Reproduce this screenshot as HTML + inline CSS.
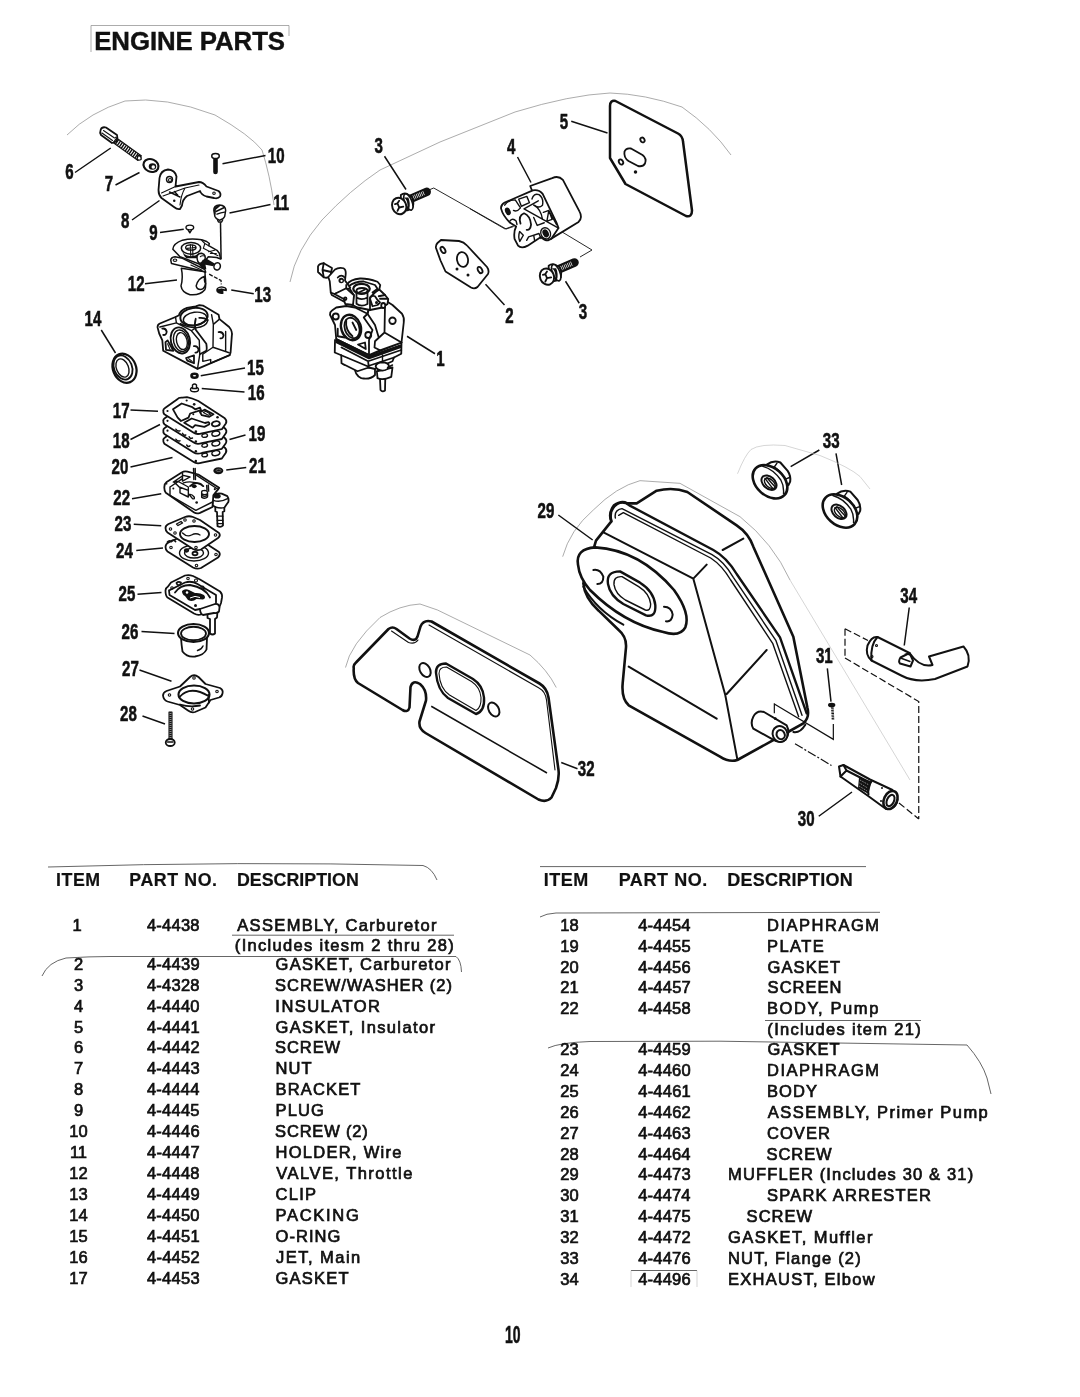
<!DOCTYPE html>
<html><head><meta charset="utf-8"><title>Engine Parts</title>
<style>
html,body{margin:0;padding:0;background:#fff;}
body{width:1080px;height:1397px;position:relative;overflow:hidden;font-family:"Liberation Sans",sans-serif;color:#111;}
svg{position:absolute;left:0;top:0;filter:grayscale(1);}
svg *{vector-effect:non-scaling-stroke;}
.k{fill:none;stroke:#111;stroke-width:1.4;stroke-linecap:round;stroke-linejoin:round;}
.k2{fill:none;stroke:#111;stroke-width:2.0;stroke-linecap:round;stroke-linejoin:round;}
.k1{fill:none;stroke:#111;stroke-width:1.1;stroke-linecap:round;stroke-linejoin:round;}
.w{fill:#fff;stroke:#111;stroke-width:1.4;stroke-linecap:round;stroke-linejoin:round;}
.w2{fill:#fff;stroke:#111;stroke-width:2.0;stroke-linecap:round;stroke-linejoin:round;}
.w1{fill:#fff;stroke:#111;stroke-width:1.1;stroke-linecap:round;stroke-linejoin:round;}
.k2s{fill:none;stroke:#111;stroke-width:1.8;stroke-linecap:round;stroke-linejoin:round;}
.w2s{fill:#fff;stroke:#111;stroke-width:1.8;stroke-linecap:round;stroke-linejoin:round;}
.h{fill:#fff;stroke:#111;stroke-width:2.5;stroke-linecap:round;stroke-linejoin:round;}
.b{fill:#111;stroke:none;}
.ld{fill:none;stroke:#111;stroke-width:1.5;stroke-linecap:butt;}
.g{fill:none;stroke:#888;stroke-width:0.7;}
.g2{fill:none;stroke:#bbb;stroke-width:0.6;}
.g3{fill:none;stroke:#555;stroke-width:0.9;}
.ds{fill:none;stroke:#111;stroke-width:1.2;stroke-dasharray:7 3;}
.n{font-family:"Liberation Sans",sans-serif;font-weight:bold;fill:#111;text-anchor:middle;stroke:#111;stroke-width:0.5;}
text{white-space:pre;}
.tx{font-size:16.5px;fill:#111;stroke:#111;stroke-width:0.7;}
.hdL{font-size:17.8px;font-weight:bold;fill:#111;stroke:#111;stroke-width:0.2;}
.hdR{font-size:18px;font-weight:bold;fill:#111;stroke:#111;stroke-width:0.2;}
.ttl{font-size:25.8px;font-weight:bold;fill:#111;stroke:#111;stroke-width:0.4;}
</style></head><body>
<svg width="1080" height="1397" viewBox="0 0 1080 1397">
<g transform="translate(0.0,0.0) scale(1.000000)">
<path class="g" d="M67,135 Q90,112 125,101 Q165,96 215,115 Q250,135 262,150 Q270,175 274,205"/>
<path class="g" d="M290,282 Q296,250 322,220 Q350,190 380,170 L440,142 L515,112 Q570,95 610,93 Q645,94 682,107 Q712,128 731,155"/>
<path class="g" d="M91,52 L91,25.5 L289,25.5 L289,36"/>
<!-- table artefact lines -->
<path class="g3" d="M48,867 Q240,861 423,865.5 Q432,868 437,880"/>
<path class="g3" d="M232,935.2 L454,935.2"/>
<path class="g3" d="M42,976 Q48,962 66,958 Q90,956.5 110,956.5 L456,956.5 Q461,960 461.5,972"/>
<path class="g3" d="M540,866.6 L866,866.6"/>
<path class="g3" d="M540,917 Q546,913.5 556,913 L880,912.3"/>
<path class="g3" d="M765,1020.5 L921,1020.5"/>
<path class="g3" d="M548,1048 Q560,1042.5 590,1041.5 L720,1041.2 L967,1045 Q982,1062 987,1078 L991,1094"/>
<path class="g3" d="M631,1270.5 L697,1270.5"/><path class="g2" d="M631,1287 L631,1270.5 M697,1270.5 L697,1287"/>
</g>
<g transform="translate(50.0,100.0) scale(0.250000)">
<!-- part 6 screw -->
<path class="w2s" d="M203,118 Q208,106 224,110 L268,140 Q272,150 266,166 L248,172 L204,140 Q198,130 203,118 Z"/>
<path class="k1" d="M214,122 L258,152 M208,132 L250,162"/>
<path d="M258,160 L360,232" stroke="#111" stroke-width="5.6" fill="none" stroke-dasharray="1.4 1"/>
<path class="k1" d="M262,149 L366,224 M252,170 L352,242"/>
<path class="w" d="M352,222 Q368,224 364,238 Q354,244 348,236 Z"/>
<!-- part 7 nut -->
<ellipse class="w2s" cx="404" cy="262" rx="31" ry="25" transform="rotate(25 404 262)" style="stroke-width:2.10"/>
<ellipse class="b" cx="410" cy="266" rx="15" ry="13"/>
<ellipse cx="413" cy="268" rx="7" ry="7" fill="#fff"/>
<!-- part 10 screw -->
<path d="M662,232 L662,288" stroke="#111" stroke-width="4.6" fill="none" stroke-linecap="round"/>
<ellipse class="w" cx="662" cy="224" rx="15" ry="10" style="stroke-width:1.50"/>
<!-- part 8 bracket -->
<path class="w2s" d="M438,312 Q442,282 472,278 Q500,280 506,306 L502,346 L596,328 Q612,328 626,346 L674,364 Q686,374 680,386 Q672,396 656,392 L626,386 Q606,380 600,364 L548,384 Q530,398 528,422 L520,436 Q508,438 496,428 L446,392 Q434,380 434,360 Z"/>
<path class="k1" d="M446,372 L502,346 M452,384 L540,352 L596,340 M540,352 Q524,380 520,420"/>
<circle class="w" cx="478" cy="318" r="12"/><circle class="k1" cx="480" cy="320" r="6"/>
<circle class="b" cx="497" cy="403" r="5"/><circle class="k1" cx="656" cy="373" r="5"/>
<path class="k" d="M478,368 L520,388 M498,366 L512,382"/>
<!-- leaders -->
<path class="ld" d="M100,290 L243,192 M262,340 L358,290 M328,480 L438,402 M440,530 L535,517 M690,255 L862,222 M718,452 L882,418 M380,735 L508,720 M725,760 L815,775"/>
<text class="n" transform="translate(78.0,315.0) scale(0.68,1)" font-size="88.8">6</text> <text class="n" transform="translate(236.0,363.0) scale(0.68,1)" font-size="88.8">7</text> <text class="n" transform="translate(301.0,511.0) scale(0.68,1)" font-size="88.8">8</text> <text class="n" transform="translate(414.0,561.0) scale(0.68,1)" font-size="88.8">9</text> <text class="n" transform="translate(905.0,250.0) scale(0.68,1)" font-size="88.8">10</text> <text class="n" transform="translate(925.0,438.0) scale(0.68,1)" font-size="88.8">11</text> <text class="n" transform="translate(345.0,765.0) scale(0.68,1)" font-size="88.8">12</text> <text class="n" transform="translate(851.0,806.0) scale(0.68,1)" font-size="88.8">13</text> <text class="n" transform="translate(172.0,902.0) scale(0.68,1)" font-size="88.8">14</text>
</g>
<g transform="translate(155.0,190.0) scale(0.083333)">
<!-- part 9 -->
<ellipse class="w" cx="418" cy="450" rx="46" ry="28"/>
<path class="k" d="M396,478 L418,514 L440,478"/>
<!-- part 11 -->
<path class="w" d="M706,244 Q702,186 775,180 Q848,186 848,246 L836,318 Q818,356 775,362 Q737,356 719,318 Z" style="stroke-width:1.50"/>
<path class="b" d="M708,244 Q708,204 750,190 L790,186 L730,236 L728,290 L716,300 Z"/>
<path class="k" d="M732,258 L832,210 M744,290 Q790,272 836,266"/>
<path class="k" d="M752,364 L762,384 L800,384 L812,360"/>
<path class="ld" d="M786,386 L793,832"/>
<!-- part 12 -->
<path class="w" d="M316,940 Q340,1050 312,1150 Q322,1228 420,1256 Q540,1268 598,1198 Q618,1150 602,1030 L600,980 Z" style="stroke-width:1.50"/>
<path class="w" d="M598,1034 Q512,1062 494,1150 Q502,1198 560,1192 Q598,1178 606,1120 Q584,1090 598,1034 Z" style="stroke-width:1.50"/>
<path class="w" d="M214,712 Q218,642 330,602 Q440,574 560,598 L620,618 L652,642 L644,668 L744,724 L772,760 L788,828 L740,810 L640,800 L560,900 L300,800 Z" style="stroke-width:1.50"/>
<path class="k1" d="M560,604 L598,642 L580,700 L756,788 M598,642 L644,668 M640,740 L716,722 M664,762 L736,762"/>
<ellipse class="w" cx="432" cy="700" rx="116" ry="70" style="stroke-width:1.50"/>
<path class="b" d="M326,730 Q340,786 432,794 Q530,786 540,730 Q530,770 500,820 L376,820 Q334,780 326,730 Z"/>
<ellipse class="w" cx="430" cy="690" rx="62" ry="32"/>
<path class="k1" d="M424,654 L430,806 M450,660 L456,806 M384,700 L486,690"/>
<path class="w" d="M189,842 Q192,806 240,800 L330,820 L598,954 L608,988 L580,976 L198,882 Z" style="stroke-width:1.50"/>
<ellipse class="k1" cx="240" cy="842" rx="22" ry="14"/>
<path class="k1" d="M430,900 L560,960"/>
<path class="w" d="M504,800 Q510,764 560,760 Q608,774 602,820 Q594,876 540,880 Q504,866 504,800 Z" style="stroke-width:1.50"/>
<path class="k1" d="M544,800 Q560,782 598,792"/>
<path class="b" d="M574,836 L620,826 L716,882 L700,914 L606,898 L616,950 L566,944 L530,900 Z"/>
<ellipse class="w" cx="746" cy="916" rx="38" ry="44" transform="rotate(20 746 916)" style="stroke-width:1.50"/>
<path class="ld" d="M650,1010 L792,1086 L796,1132" style="stroke-dasharray:4 1.5;stroke-width:1.3"/>
<!-- part 13 -->
<path class="b" d="M734,1200 Q738,1162 800,1156 Q858,1162 864,1196 L860,1214 L820,1208 L822,1244 Q790,1254 760,1238 Q734,1226 734,1200 Z"/>
<path d="M760,1184 Q800,1170 840,1186" stroke="#fff" stroke-width="0.8" fill="none"/>
</g>
<g transform="translate(50.0,300.0) scale(0.250000)">
<!-- part 14 packing -->
<path class="ld" d="M205,120 L262,212"/>
<ellipse class="w2s" cx="298" cy="273" rx="46" ry="60" transform="rotate(-22 298 273)" style="stroke-width:2.25"/>
<ellipse class="k2s" cx="292" cy="270" rx="36" ry="50" transform="rotate(-22 292 270)"/>
<ellipse class="k" cx="290" cy="272" rx="24" ry="38" transform="rotate(-22 290 272)"/>
<!-- 15, 16 -->
<ellipse cx="578" cy="303" rx="12" ry="8" fill="#fff" stroke="#111" stroke-width="2.6"/>
<ellipse class="w" cx="578" cy="358" rx="16" ry="9"/><path class="w" d="M570,340 Q578,332 586,340 L586,354 L570,354 Z"/>
<!-- leaders -->
<path class="ld" d="M603,303 L780,272 M607,354 L778,368 M322,440 L432,445 M322,558 L440,498 M718,558 L782,540 M322,668 L490,630 M705,680 L785,670 M328,795 L445,775 M335,897 L445,903"/>
<text class="n" transform="translate(822.0,298.0) scale(0.68,1)" font-size="88.8">15</text> <text class="n" transform="translate(825.0,400.0) scale(0.68,1)" font-size="88.8">16</text> <text class="n" transform="translate(285.0,470.0) scale(0.68,1)" font-size="88.8">17</text> <text class="n" transform="translate(285.0,590.0) scale(0.68,1)" font-size="88.8">18</text> <text class="n" transform="translate(828.0,563.0) scale(0.68,1)" font-size="88.8">19</text> <text class="n" transform="translate(280.0,695.0) scale(0.68,1)" font-size="88.8">20</text> <text class="n" transform="translate(830.0,693.0) scale(0.68,1)" font-size="88.8">21</text> <text class="n" transform="translate(287.0,820.0) scale(0.68,1)" font-size="88.8">22</text> <text class="n" transform="translate(292.0,922.0) scale(0.68,1)" font-size="88.8">23</text>
</g>
<g transform="translate(150.0,298.0) scale(0.087966)">
<path class="w2s" d="M86,334 Q84,302 112,290 L290,216 L330,196 Q342,140 420,112 L520,96 L562,80 L602,86 L780,190 L790,240 L900,330 Q940,380 930,430 L916,620 L906,650 L540,806 L150,600 L140,480 Q96,400 86,334 Z"/>
<ellipse class="w2s" cx="500" cy="212" rx="156" ry="100" transform="rotate(-8 500 212)" style="stroke-width:1.95"/>
<ellipse class="k" cx="512" cy="236" rx="134" ry="74" transform="rotate(-8 512 236)"/>
<path class="k" d="M290,216 L300,282 L470,372 L560,480 L566,640 L540,806 M470,372 L520,340 M300,282 L112,330 M345,290 Q420,330 520,340 Q640,330 660,250"/>
<path class="k2s" d="M520,236 Q500,300 520,360 L640,520 Q650,580 640,600 L566,640 M560,226 Q620,220 650,250"/>
<path class="k" d="M700,190 L720,300 L716,560 L900,622 M720,300 L790,240 M716,560 L600,640 L600,720 L690,700 L690,740 L906,650 M860,380 L860,600"/>
<ellipse class="w2s" cx="345" cy="482" rx="108" ry="150" transform="rotate(-14 345 482)" style="stroke-width:1.95"/>
<ellipse class="k" cx="352" cy="486" rx="84" ry="124" transform="rotate(-14 352 486)"/>
<ellipse class="k" cx="362" cy="490" rx="60" ry="98" transform="rotate(-14 362 490)"/>
<path class="k2s" d="M140,348 Q180,340 190,384 Q186,424 150,420 M500,548 Q540,540 552,584 Q548,624 516,620 M780,388 Q826,380 836,424 Q830,464 800,458"/>
<path class="k2s" d="M176,502 L200,482 L266,600 L182,590 Z M410,682 L500,652 L500,742 L424,712 Z"/>
<path class="k1" d="M200,520 L230,590 M440,690 L480,720"/>
</g>
<g transform="translate(155.0,390.0) scale(0.083333)">
<g transform="translate(0,352)"><path class="w2s" d="M100,248 Q98,232 116,220 L268,112 Q286,86 330,92 L384,86 Q440,96 520,132 L838,340 Q868,370 850,402 L802,470 L562,520 Q500,540 460,510 L112,292 Q96,272 100,248 Z"/><ellipse class="k" cx="730" cy="405" rx="48" ry="30" transform="rotate(-10 730 405)"/><ellipse class="k" cx="596" cy="428" rx="34" ry="22" transform="rotate(-10 596 428)"/><circle class="b" cx="150" cy="252" r="13"/><circle class="b" cx="490" cy="500" r="15"/></g>
<g transform="translate(0,236)"><path class="w2s" d="M100,248 Q98,232 116,220 L268,112 Q286,86 330,92 L384,86 Q440,96 520,132 L838,340 Q868,370 850,402 L802,470 L562,520 Q500,540 460,510 L112,292 Q96,272 100,248 Z"/><ellipse class="k" cx="730" cy="405" rx="48" ry="30" transform="rotate(-10 730 405)"/><ellipse class="k" cx="596" cy="428" rx="34" ry="22" transform="rotate(-10 596 428)"/><circle class="b" cx="150" cy="252" r="13"/><circle class="b" cx="490" cy="500" r="15"/></g>
<g transform="translate(0,118)"><path class="w2s" d="M100,248 Q98,232 116,220 L268,112 Q286,86 330,92 L384,86 Q440,96 520,132 L838,340 Q868,370 850,402 L802,470 L562,520 Q500,540 460,510 L112,292 Q96,272 100,248 Z"/><ellipse class="k" cx="730" cy="405" rx="48" ry="30" transform="rotate(-10 730 405)"/><ellipse class="k" cx="596" cy="428" rx="34" ry="22" transform="rotate(-10 596 428)"/><circle class="b" cx="150" cy="252" r="13"/><circle class="b" cx="490" cy="500" r="15"/></g>
<path class="k" d="M330,520 Q340,550 370,540 M410,560 Q420,590 450,576 M250,470 Q270,500 300,490 M250,590 Q270,620 300,610 M380,660 Q400,690 420,670"/>
<path class="w2s" d="M100,248 Q98,232 116,220 L268,112 Q286,86 330,92 L384,86 Q440,96 520,132 L838,340 Q868,370 850,402 L802,470 L562,520 Q500,540 460,510 L112,292 Q96,272 100,248 Z"/>
<path class="k2s" d="M216,232 L320,162 L440,202 L482,232 L540,212 L552,242 L422,282 L402,332 L312,372 L272,332 Z M540,266 L600,236 L702,292 L652,322 L562,302 Z M350,392 L440,342 L600,396 L642,386 Q660,400 648,414 L592,442 L482,422 L452,452 Z"/>
<path class="k1" d="M580,270 L610,256 L668,290 L640,304 Z"/>
<ellipse class="k2s" cx="730" cy="405" rx="48" ry="30" transform="rotate(-10 730 405)"/>
<circle class="b" cx="150" cy="252" r="13"/><circle class="b" cx="380" cy="126" r="13"/><circle class="b" cx="470" cy="172" r="16"/><circle class="b" cx="460" cy="290" r="12"/><circle class="b" cx="750" cy="326" r="15"/><circle class="b" cx="490" cy="500" r="16"/>
</g>
<g transform="translate(155.0,462.0) scale(0.083333)">
<!-- 21 -->
<ellipse class="b" cx="760" cy="106" rx="60" ry="42"/><ellipse cx="764" cy="100" rx="30" ry="14" fill="none" stroke="#999" stroke-width="0.6"/>
<!-- 22 fitting -->
<path class="w2s" d="M690,400 Q740,370 800,380 L868,410 Q890,440 880,480 L852,520 L832,548 L832,590 L812,600 L816,760 Q790,790 750,770 L744,600 L724,590 L724,540 L690,520 Z"/>
<path class="k" d="M744,650 L814,650 M746,700 L815,700 M748,740 L816,740 M724,540 Q780,560 832,548 M700,460 Q780,490 870,440"/>
<ellipse class="b" cx="746" cy="410" rx="42" ry="28"/>
<!-- 22 body -->
<path class="w2s" d="M112,300 Q112,262 140,240 L320,126 Q350,106 390,116 L520,150 L770,310 L700,400 L690,540 L540,610 Q500,626 470,606 L130,370 Q110,350 112,300 Z"/>
<path class="k" d="M180,300 L180,400 L490,580 L690,480 M180,300 L330,200 M220,240 L340,160 L420,180 M500,160 L760,330 M330,130 L330,230 L420,180 M230,240 Q260,220 290,240 L400,300 L400,340 L290,300 Z M300,310 L300,370 L400,420 L400,340 M410,390 Q440,380 470,420 Q480,450 450,440 Z M340,250 Q440,220 560,270"/>
<path class="k2s" d="M420,290 Q470,240 540,260 L580,290"/>
<ellipse class="b" cx="470" cy="292" rx="30" ry="22"/>
<path class="w" d="M560,360 Q560,340 596,340 Q630,344 630,364 L630,420 Q600,446 560,424 Z"/>
<path class="k" d="M562,384 Q596,400 630,384 M562,404 Q596,420 630,404 M620,280 L624,340 M640,276 L644,350"/>
<circle class="b" cx="220" cy="318" r="12"/><circle class="b" cx="500" cy="486" r="16"/><circle class="b" cx="718" cy="326" r="13"/><circle class="b" cx="140" cy="262" r="10"/>
<path class="k" d="M462,76 L466,210 M482,76 L486,210"/>
</g>
<g transform="translate(50.0,510.0) scale(0.250000)">
<!-- 24 diaphragm (under) -->
<path class="w2s" d="M462,148 Q462,136 474,130 L540,100 L590,112 L676,168 Q684,178 672,190 L604,232 Q588,238 572,230 L470,166 Q462,160 462,148 Z"/>
<ellipse class="k" cx="576" cy="172" rx="58" ry="32"/><ellipse class="k" cx="576" cy="172" rx="38" ry="20"/>
<ellipse class="k2s" cx="580" cy="174" rx="10" ry="7"/><ellipse class="k2s" cx="546" cy="162" rx="7" ry="5"/>
<circle class="k1" cx="484" cy="150" r="5"/><circle class="k1" cx="586" cy="222" r="5"/><circle class="k1" cx="664" cy="178" r="5"/>
<path class="k2s" d="M470,128 Q476,120 486,126 M488,122 Q496,118 502,126"/>
<!-- 23 gasket -->
<path class="w2s" d="M462,72 Q462,62 474,56 L540,28 Q556,22 572,28 L600,40 L676,92 Q684,102 672,112 L604,158 Q588,164 572,156 L470,90 Q462,84 462,72 Z"/>
<ellipse class="w2s" cx="578" cy="96" rx="58" ry="32" style="stroke-width:1.95"/>
<path class="k" d="M530,92 Q548,110 566,100 Q584,90 600,100"/>
<circle class="k1" cx="482" cy="76" r="5"/><circle class="k1" cx="500" cy="92" r="5"/><circle class="k1" cx="576" cy="44" r="5"/><circle class="k1" cx="662" cy="100" r="5"/><circle class="k1" cx="584" cy="150" r="5"/><circle class="k1" cx="540" cy="40" r="5"/>
<path class="k" d="M506,56 L524,46 L530,52 L512,62 Z"/>
<!-- 25 body -->
<path class="w2s" d="M630,412 L630,432 L640,436 L640,494 Q650,502 660,494 L660,436 L668,430 L670,406 Z"/>
<path class="w2s" d="M462,322 Q462,312 472,306 L484,290 L540,262 Q556,258 572,264 L600,278 L680,326 Q690,336 688,350 L684,372 L676,392 L604,418 Q590,422 576,414 L470,350 Q462,344 462,322 Z"/>
<path class="k2s" d="M476,322 L540,290 Q566,282 590,296 L664,340 L664,370 M476,322 L478,340 L580,400 L600,396 M500,330 Q520,300 560,300 Q620,310 640,350"/>
<path class="b" d="M528,324 Q540,312 556,320 L580,332 Q600,330 616,340 Q626,352 612,358 L586,356 Q570,370 552,360 L540,344 Q528,338 528,324 Z"/>
<circle cx="548" cy="330" r="5" fill="#fff"/><path d="M560,352 Q580,340 600,350" stroke="#fff" stroke-width="1" fill="none"/>
<path class="w2s" d="M600,396 L660,376 Q676,374 678,390 L676,406 Q668,414 656,412 L612,420 Q600,414 600,396 Z"/>
<path class="k2s" d="M506,292 Q514,284 524,290 L520,300 Q510,304 506,292 Z"/>
<circle class="k1" cx="488" cy="312" r="5"/><circle class="k1" cx="552" cy="274" r="5"/><circle class="k1" cx="584" cy="282" r="6"/><circle class="k1" cx="610" cy="310" r="6"/><circle class="b" cx="582" cy="382" r="6"/>
<!-- 26 cup -->
<path class="w2s" d="M524,512 Q526,540 530,566 Q548,590 580,586 Q616,580 626,558 L628,512 Z"/>
<ellipse class="w2s" cx="574" cy="492" rx="62" ry="36" style="stroke-width:2.10"/>
<ellipse class="k2s" cx="574" cy="494" rx="50" ry="27"/>
<path class="k" d="M590,562 Q606,558 612,544"/>
<!-- 27 cover -->
<path class="w2s" d="M452,742 Q452,730 466,724 L520,706 L560,668 Q576,654 594,668 L622,696 L680,712 Q694,720 690,734 Q688,746 676,750 L642,760 L622,790 L580,808 Q566,812 552,802 L520,780 L470,766 Q454,760 452,742 Z"/>
<ellipse class="w2s" cx="576" cy="738" rx="62" ry="36" style="stroke-width:2.10"/>
<path class="k2s" d="M518,748 Q560,700 634,744 M634,740 L636,770 M520,778 Q560,790 600,782"/>
<circle class="k1" cx="478" cy="740" r="5"/><circle class="k1" cx="576" cy="672" r="5"/><circle class="k1" cx="668" cy="726" r="5"/><circle class="k1" cx="570" cy="796" r="5"/>
<!-- 28 screw -->
<path d="M482,806 L482,916" stroke="#111" stroke-width="2.6" fill="none" stroke-dasharray="1.6 0.4"/>
<path class="k1" d="M476,808 L476,916 M488,808 L488,916"/>
<ellipse class="w2s" cx="481" cy="930" rx="18" ry="14"/><path class="k" d="M470,928 L492,928"/>
<!-- leaders -->
<path class="ld" d="M345,162 L452,152 M350,337 L446,330 M366,486 L498,494 M358,640 L486,685 M370,824 L460,856"/>
<text class="n" transform="translate(298.0,190.0) scale(0.68,1)" font-size="88.8">24</text> <text class="n" transform="translate(308.0,365.0) scale(0.68,1)" font-size="88.8">25</text> <text class="n" transform="translate(320.0,515.0) scale(0.68,1)" font-size="88.8">26</text> <text class="n" transform="translate(322.0,662.0) scale(0.68,1)" font-size="88.8">27</text> <text class="n" transform="translate(314.0,842.0) scale(0.68,1)" font-size="88.8">28</text>
</g>
<g transform="translate(305.0,255.0) scale(0.125000)">
<!-- bottom bulbs & fitting -->
<path class="w2s" d="M400,900 Q396,960 450,985 Q520,1000 560,960 L560,900 Z"/>
<path class="w2s" d="M300,840 Q290,880 330,880 L340,850 Z"/>
<path class="w2s" d="M600,990 L604,1080 Q620,1100 640,1084 L642,990 Z"/>
<path class="w2s" d="M575,930 L580,985 Q620,1005 690,975 L700,900 Z"/>
<!-- lower plates -->
<path class="w2s" d="M240,680 L238,780 L290,802 L292,866 L420,930 L510,900 L560,912 L700,850 L712,820 L770,790 L772,700 L520,800 Z"/>
<path class="k2s" d="M290,802 L500,890 L712,820 M292,740 L505,850 L770,760 M505,850 L510,900"/>
<path class="w2s" d="M565,890 Q570,860 620,858 Q670,862 672,890 Q668,920 620,925 Q572,920 565,890 Z"/>
<path class="k" d="M620,858 L620,800 M660,900 L700,880"/>
<!-- main body -->
<path class="w2s" d="M200,478 Q198,456 216,444 L250,420 L330,408 L400,420 L500,470 L520,400 L640,400 L656,372 L700,400 L776,470 Q796,500 790,540 L772,700 L600,762 L512,800 L250,672 L240,560 Z"/>
<path class="k2s" d="M640,400 L636,620 L772,700 M636,620 L560,690 L556,740 L600,762 M500,470 L560,560 L590,660 M520,400 L500,470 L470,500 L540,600 L512,680 L512,800 M250,672 L512,800" />
<path d="M248,690 L510,820 L770,728" stroke="#111" stroke-width="3.6" fill="none" stroke-linejoin="round"/>
<ellipse class="w2s" cx="368" cy="580" rx="78" ry="104" transform="rotate(-18 368 580)" style="stroke-width:2.40"/>
<ellipse class="k2s" cx="376" cy="584" rx="58" ry="84" transform="rotate(-18 376 584)"/>
<path class="k2s" d="M330,520 Q320,600 380,650 M380,540 L410,600"/>
<circle class="k2s" cx="246" cy="492" r="24"/><circle class="k2s" cx="506" cy="640" r="24"/><circle class="k2s" cx="700" cy="526" r="26"/>
<path class="k2s" d="M424,716 L480,700 L486,752 Z M262,590 L262,650 L320,660"/>
<!-- throttle top -->
<path class="w2s" d="M336,236 Q360,196 440,188 Q500,186 580,214 L602,240 L594,276 L640,320 L666,352 L660,392 L620,420 L520,440 L420,420 L380,400 L390,320 Z"/>
<path class="k2s" d="M350,250 Q400,210 470,212 L560,240 L580,270 L540,300 M594,276 L560,300 L520,340 L520,440"/>
<ellipse class="w2s" cx="452" cy="270" rx="66" ry="40" style="stroke-width:2.25"/>
<ellipse class="k2s" cx="456" cy="286" rx="44" ry="22"/>
<path class="k2s" d="M412,300 L412,390 Q450,420 500,392 L500,300 M412,340 Q450,366 500,340 M430,300 L480,276"/>
<path class="w2s" d="M520,350 Q530,320 560,330 L580,360 L600,380 L580,400 L540,410 Z"/>
<circle class="b" cx="572" cy="380" r="12"/><ellipse class="w2s" cx="626" cy="404" rx="16" ry="20"/>
<path class="k2s" d="M590,330 L640,320 M600,350 L660,350"/>
<!-- bracket & screw -->
<path class="w2s" d="M104,92 Q110,70 150,66 L216,104 L204,168 Q180,190 150,178 L104,136 Z"/>
<path class="k2s" d="M150,66 L140,120 L150,178 M140,120 L210,136"/>
<path class="w2s" d="M186,176 L240,116 Q270,96 308,106 Q328,116 326,150 L320,204 L362,262 L236,312 L206,300 L198,210 Z"/>
<circle class="b" cx="290" cy="204" r="22"/><circle cx="292" cy="206" r="9" fill="#fff"/><path class="k2s" d="M262,180 Q290,150 318,180"/>
<path class="w2s" d="M236,312 L330,266 L392,322 L384,400 L322,392 L310,352 Z"/>
<path class="k2s" d="M206,300 L214,320 L310,372 M330,266 L330,240"/>
<circle class="k2s" cx="322" cy="350" r="10"/>
</g>
<g transform="translate(290.0,110.0) scale(0.250000)">
<path class="ld" d="M555,320 L575,312 L865,476 L895,466" style="stroke-width:0.90"/>
<!-- gasket 2 -->
<path class="w2s" d="M584,552 Q582,540 590,532 L604,520 L676,524 Q696,528 708,542 L788,628 Q798,642 792,656 L750,708 Q738,718 724,710 L622,646 L602,602 Z"/>
<ellipse class="k2s" cx="690" cy="598" rx="22" ry="30" transform="rotate(-10 690 598)"/>
<ellipse class="k2s" cx="612" cy="560" rx="8" ry="14" transform="rotate(-30 612 560)"/>
<ellipse class="k2s" cx="760" cy="640" rx="8" ry="14" transform="rotate(-30 760 640)"/>
<circle class="b" cx="668" cy="636" r="6"/><circle class="b" cx="712" cy="660" r="6"/>
<!-- leaders/labels -->
<path class="ld" d="M378,185 L464,318 M782,697 L858,780 M910,188 L964,290 M468,905 L580,975"/>
<text class="n" transform="translate(355.0,170.0) scale(0.68,1)" font-size="88.8">3</text> <text class="n" transform="translate(878.0,850.0) scale(0.68,1)" font-size="88.8">2</text> <text class="n" transform="translate(885.0,175.0) scale(0.68,1)" font-size="88.8">4</text>
</g>
<g transform="translate(470.0,80.0) scale(0.250000)">
<!-- gasket 5 -->
<path class="h" d="M560,104 Q560,80 582,84 L832,214 Q850,224 852,246 L888,522 Q888,550 864,544 L622,416 L560,312 Z"/>
<path class="k2s" d="M618,286 Q624,270 644,274 L690,300 Q708,314 700,334 Q692,348 672,344 L634,324 Q614,310 618,286 Z"/>
<ellipse class="k2s" cx="690" cy="240" rx="8" ry="10" transform="rotate(-30 690 240)"/>
<ellipse class="k2s" cx="604" cy="328" rx="8" ry="11" transform="rotate(-30 604 328)"/>
<circle class="b" cx="662" cy="368" r="7"/>
<!-- lines -->
<path class="ld" d="M0,515 L140,596 L172,584 M352,598 L488,680 L440,708" style="stroke-width:0.90"/>
<!-- leaders/labels -->
<path class="ld" d="M405,165 L550,212 M382,805 L437,893"/>
<text class="n" transform="translate(376.0,195.0) scale(0.68,1)" font-size="88.8">5</text> <text class="n" transform="translate(452.0,955.0) scale(0.68,1)" font-size="88.8">3</text>
</g>
<g transform="translate(495.0,170.0) scale(0.087966)">
<path class="w2s" d="M400,182 L650,92 Q722,60 772,112 L960,470 Q1000,540 950,590 L640,780 Z"/>
<path class="w2s" d="M70,442 Q60,400 110,370 L430,232 Q500,220 542,272 L700,600 L722,660 L642,780 L602,800 Q560,800 522,762 L372,860 Q300,900 262,860 L222,782 Q210,700 240,642 L172,600 Q90,520 70,442 Z"/>
<path class="k" d="M110,400 Q150,340 230,340 L290,430 Q250,480 210,460 M270,332 L362,300 L392,372 L300,412 Z M420,330 Q440,260 500,280 Q556,320 540,400 Q500,440 450,400 M330,442 L492,350 M330,442 L722,660 M440,400 Q520,440 540,560 M550,482 L612,460 L700,620 M612,460 L650,562 L590,582 Z M440,540 L480,630 L560,600"/>
<path class="k2s" d="M290,610 Q260,520 330,492 Q400,520 410,620 Q400,690 360,680"/>
<path class="k" d="M170,580 Q200,540 240,580 L250,620 M280,700 L322,742 L282,812 Q260,760 280,700 Z M360,800 L382,760 L500,722 L522,780 M440,740 L450,800"/>
<ellipse class="b" cx="146" cy="470" rx="30" ry="46" transform="rotate(-25 146 470)"/>
<ellipse class="b" cx="576" cy="720" rx="34" ry="48" transform="rotate(-25 576 720)"/>
<ellipse class="k" cx="576" cy="720" rx="54" ry="66" transform="rotate(-25 576 720)"/>
</g>
<g transform="translate(290.0,230.0) scale(0.250000)">
<text class="n" transform="translate(602.0,545.0) scale(0.68,1)" font-size="88.8">1</text>
</g>
<g transform="translate(380.0,170.0) scale(0.083333)">
<g><path d="M380,340 L560,262" stroke="#111" stroke-width="8.6" fill="none" stroke-linecap="round"/>
<path d="M400,330 L530,274" stroke="#fff" stroke-width="4.4" fill="none" stroke-dasharray="0.7 1.1"/>
<path class="w2s" d="M250,300 Q290,270 330,290 L380,320 Q410,370 396,440 L340,480 L250,500 Z"/>
<ellipse class="w2s" cx="340" cy="384" rx="44" ry="104" transform="rotate(-22 340 384)" style="stroke-width:1.65"/>
<path class="b" d="M290,330 Q330,360 330,430 L322,490 L350,470 Q370,400 340,330 Z"/>
<ellipse class="w2s" cx="230" cy="432" rx="84" ry="100" transform="rotate(-22 230 432)" style="stroke-width:1.95"/>
<path class="k2s" d="M180,410 L210,400 L230,370 M210,400 L230,450 L280,440 M230,450 L210,490"/></g>
<g transform="translate(1774,848)"><path d="M380,340 L560,262" stroke="#111" stroke-width="8.6" fill="none" stroke-linecap="round"/>
<path d="M400,330 L530,274" stroke="#fff" stroke-width="4.4" fill="none" stroke-dasharray="0.7 1.1"/>
<path class="w2s" d="M250,300 Q290,270 330,290 L380,320 Q410,370 396,440 L340,480 L250,500 Z"/>
<ellipse class="w2s" cx="340" cy="384" rx="44" ry="104" transform="rotate(-22 340 384)" style="stroke-width:1.65"/>
<path class="b" d="M290,330 Q330,360 330,430 L322,490 L350,470 Q370,400 340,330 Z"/>
<ellipse class="w2s" cx="230" cy="432" rx="84" ry="100" transform="rotate(-22 230 432)" style="stroke-width:1.95"/>
<path class="k2s" d="M180,410 L210,400 L230,370 M210,400 L230,450 L280,440 M230,450 L210,490"/></g>
</g>
<g transform="translate(330.0,580.0) scale(0.250000)">
<path class="g" d="M62,350 Q80,260 200,150 Q280,100 360,96 L430,120 L800,300 Q870,360 905,430"/>
<path class="w2" d="M95,352 Q92,340 104,330 L234,196 Q250,184 266,196 L318,234 Q342,248 350,226 L362,186 Q374,158 406,166 L838,414 Q868,432 874,470 L914,760 Q918,794 904,832 L886,870 Q866,892 834,878 L382,612 Q354,596 358,566 L384,482 Q388,440 360,416 Q330,398 322,428 L318,510 Q312,532 290,520 L112,412 Q92,396 95,352 Z" style="stroke-width:2.6"/>
<path class="k1" d="M396,180 L836,432 Q862,446 866,480 L900,760 M246,204 L314,250 Q340,258 352,240"/>
<path class="k2" d="M424,372 Q422,334 464,334 L572,396 Q612,422 616,470 Q620,524 584,536 L472,472 Q430,442 424,372 Z" style="stroke-width:2.4"/>
<path class="k1" d="M436,374 Q436,348 466,348 L566,406 Q600,428 604,470 Q606,510 584,522 L478,460 Q440,434 436,374 Z"/>
<ellipse class="k2" cx="380" cy="360" rx="20" ry="30" transform="rotate(-30 380 360)"/>
<ellipse class="k2" cx="655" cy="518" rx="20" ry="30" transform="rotate(-30 655 518)"/>
<path class="ld" d="M405,505 L868,772 M925,730 L990,755"/>
<text class="n" transform="translate(1025.0,785.0) scale(0.68,1)" font-size="88.8">32</text>
</g>
<g transform="translate(540.0,450.0) scale(0.333333)">
<path class="g" d="M68,320 Q90,240 160,180 Q230,110 300,92 L420,100 L600,200 Q700,280 750,390"/>
<!-- muffler body -->
<path class="w2" d="M130,400 L168,272 L214,214 Q204,190 222,166 Q244,150 262,160 L290,160 L350,122 Q400,110 442,126 L590,226 Q626,250 640,290 L760,560 L802,772 Q810,802 790,820 L744,846 L592,930 Q568,938 540,920 L266,766 Q244,746 248,700 L258,592 Q260,560 236,540 L176,482 Q134,444 130,400 Z" style="stroke-width:2.6"/>
<!-- seam band -->
<path class="k2" d="M214,214 Q206,178 232,162 Q250,152 268,166 L520,300 Q560,322 590,372 L720,562 L800,790" style="stroke-width:2.4"/>
<path class="k" d="M226,204 Q222,180 246,176 L516,314 Q552,334 580,382 L708,572 L786,796 M236,196 L250,188 L512,324 Q546,346 572,390 L698,580 L776,800"/>
<!-- edges -->
<path class="k2" d="M192,248 L460,386 L556,736 L592,928 M460,386 L500,344 M548,300 L610,266 M560,732 L680,600 M266,650 L530,806"/>
<!-- flange -->
<path class="w2" d="M114,344 Q106,296 166,292 Q300,300 402,420 Q452,490 436,532 Q420,562 370,546 Q250,520 150,420 Q118,384 114,344 Z" style="stroke-width:2.6"/>
<path class="k2" d="M130,410 Q170,480 250,524"/>
<path class="k2" d="M204,402 Q198,364 240,364 L300,398 Q342,424 346,466 Q348,504 318,496 L250,462 Q210,438 204,402 Z" style="stroke-width:2.4"/>
<path class="k" d="M222,404 Q220,378 246,380 L296,410 Q328,430 332,462 Q332,484 316,480 L256,450 Q226,432 222,404 Z"/>
<path class="k2" d="M160,360 Q180,356 190,380 Q190,402 172,402 M372,470 Q394,470 398,494 Q396,516 378,514"/>
<!-- spout -->
<path class="w2" d="M640,800 Q650,780 672,786 L740,826 Q752,850 736,870 Q716,882 698,868 L640,836 Q630,820 640,800 Z"/>
<ellipse class="w2" cx="720" cy="852" rx="22" ry="24" transform="rotate(-25 720 852)"/>
<ellipse class="k2" cx="722" cy="854" rx="12" ry="14" transform="rotate(-25 722 854)"/>
<circle class="b" cx="706" cy="806" r="4"/>
<path class="k2" d="M760,846 Q780,850 796,824"/>
<!-- lines -->
<path class="ld" d="M703,760 L703,790 M703,762 L880,868 L880,822" style="stroke-width:1.2"/>
<!-- screw 31 -->
<ellipse class="b" cx="875" cy="765" rx="11" ry="7"/>
<path d="M877,770 L879,810" stroke="#111" stroke-width="2.6" fill="none" stroke-dasharray="1 0.6"/>
<!-- leaders -->
<path class="ld" d="M55,195 L158,270 M862,655 L873,755 M838,0 L752,50 M888,10 L905,105"/>
<text class="n" transform="translate(18.0,204.0) scale(0.68,1)" font-size="66.6">29</text> <text class="n" transform="translate(853.0,640.0) scale(0.68,1)" font-size="66.6">31</text>
</g>
<g transform="translate(745.0,450.0) scale(0.083333)">
<g><path class="w2" d="M262,176 Q340,118 424,150 L512,250 Q552,310 542,380 L522,420 L470,440 L240,230 Z"/>
<path class="k" d="M352,204 L384,158 M478,352 L534,330 M352,204 Q440,260 478,352"/>
<ellipse class="w2" cx="300" cy="382" rx="236" ry="166" transform="rotate(42 300 382)" style="stroke-width:2.6"/>
<path class="k" d="M214,196 Q340,230 430,360 Q470,430 462,520"/>
<ellipse class="k2" cx="288" cy="392" rx="104" ry="70" transform="rotate(42 288 392)"/>
<ellipse class="k" cx="298" cy="400" rx="78" ry="46" transform="rotate(42 298 400)"/>
<path class="k" d="M240,340 Q300,420 340,470 M262,330 Q320,400 360,440"/></g>
<g transform="translate(840,350)"><path class="w2" d="M262,176 Q340,118 424,150 L512,250 Q552,310 542,380 L522,420 L470,440 L240,230 Z"/>
<path class="k" d="M352,204 L384,158 M478,352 L534,330 M352,204 Q440,260 478,352"/>
<ellipse class="w2" cx="300" cy="382" rx="236" ry="166" transform="rotate(42 300 382)" style="stroke-width:2.6"/>
<path class="k" d="M214,196 Q340,230 430,360 Q470,430 462,520"/>
<ellipse class="k2" cx="288" cy="392" rx="104" ry="70" transform="rotate(42 288 392)"/>
<ellipse class="k" cx="298" cy="400" rx="78" ry="46" transform="rotate(42 298 400)"/>
<path class="k" d="M240,340 Q300,420 340,470 M262,330 Q320,400 360,440"/></g>
</g>
<g transform="translate(760.0,580.0) scale(0.250000)">
<path class="g2" d="M120,0 L600,800"/>
<!-- dashed box -->
<path class="ds" d="M340,195 L340,312 M340,195 L432,242 M340,312 L635,486 L635,956 M556,892 L635,956"/>
<path class="ld" d="M140,655 L286,742" style="stroke-width:1.2;stroke-dasharray:9 2 2 2"/>
<!-- elbow 34 -->
<path class="w2" d="M470,228 L598,292 Q640,352 690,340 L676,306 L814,266 Q846,300 830,346 L700,396 Q620,412 565,382 L446,322 Q420,300 430,262 Q446,224 470,228 Z"/>
<path class="k2" d="M470,228 Q440,260 446,322"/>
<path class="w2" d="M598,292 L562,310 Q552,326 560,334 L602,346 L612,322 Z"/>
<path class="b" d="M576,296 L600,288 L606,304 Z"/>
<path class="k" d="M562,312 L600,326"/>
<circle class="k1" cx="466" cy="262" r="4"/><circle class="k1" cx="448" cy="306" r="4"/>
<!-- spark arrester 30 -->
<path class="w2" d="M316,746 L334,740 L440,798 L530,840 Q552,856 548,890 Q536,920 504,916 L430,862 L322,786 Z"/>
<path class="k2" d="M334,740 L346,762 L322,786 M346,762 L440,810"/>
<path d="M396,790 L446,806 L434,856 L392,832 Z" fill="#111"/>
<path d="M400,800 L436,820 M398,812 L434,834 M396,824 L432,846" stroke="#fff" stroke-width="0.6" fill="none" stroke-dasharray="1 1"/>
<path class="k2" d="M446,806 Q428,830 434,858"/>
<ellipse class="w2" cx="522" cy="880" rx="26" ry="38" transform="rotate(25 522 880)" style="stroke-width:2.6"/>
<ellipse class="k2" cx="522" cy="882" rx="14" ry="24" transform="rotate(25 522 882)"/>
<circle class="b" cx="488" cy="832" r="4"/><circle class="b" cx="484" cy="884" r="4"/>
<!-- leaders -->
<path class="ld" d="M597,110 L577,262 M235,945 L368,848"/>
<text class="n" transform="translate(595.0,90.0) scale(0.68,1)" font-size="88.8">34</text> <text class="n" transform="translate(185.0,985.0) scale(0.68,1)" font-size="88.8">30</text>
</g>
<g transform="translate(720.0,420.0) scale(0.250000)">
<path class="g2" d="M70,215 Q100,140 124,118 Q160,94 260,102 L400,142 Q520,190 560,226 L600,276"/>
<text class="n" transform="translate(445.0,110.0) scale(0.68,1)" font-size="88.8">33</text>
</g>
<g transform="translate(0.0,0.0) scale(1.000000)">
<text class="ttl" x="94.22" y="50.20" style="letter-spacing:-0.071px">ENGINE PARTS</text>
<text class="hdL" x="56.04" y="885.50" style="letter-spacing:0.554px">ITEM</text>
<text class="hdL" x="129.34" y="885.50" style="letter-spacing:0.579px">PART NO.</text>
<text class="hdL" x="236.94" y="885.50" style="letter-spacing:0.034px">DESCRIPTION</text>
<text class="hdR" x="543.63" y="886.40" style="letter-spacing:0.570px">ITEM</text>
<text class="hdR" x="618.63" y="886.40" style="letter-spacing:0.577px">PART NO.</text>
<text class="hdR" x="727.23" y="886.40" style="letter-spacing:0.260px">DESCRIPTION</text>
<text class="tx" x="77.20" y="930.75" text-anchor="middle">1</text>
<text class="tx" x="146.94" y="930.75" style="letter-spacing:0.235px">4-4438</text>
<text class="tx" x="237.27" y="930.75" style="letter-spacing:1.345px">ASSEMBLY, Carburetor</text>
<text class="tx" x="234.86" y="951.25" style="letter-spacing:1.306px">(Includes itesm 2 thru 28)</text>
<text class="tx" x="78.50" y="969.70" text-anchor="middle">2</text>
<text class="tx" x="146.94" y="969.70" style="letter-spacing:0.252px">4-4439</text>
<text class="tx" x="275.53" y="969.70" style="letter-spacing:1.280px">GASKET, Carburetor</text>
<text class="tx" x="78.50" y="990.64" text-anchor="middle">3</text>
<text class="tx" x="146.94" y="990.64" style="letter-spacing:0.235px">4-4328</text>
<text class="tx" x="275.11" y="990.64" style="letter-spacing:0.951px">SCREW/WASHER (2)</text>
<text class="tx" x="78.50" y="1011.58" text-anchor="middle">4</text>
<text class="tx" x="146.94" y="1011.58" style="letter-spacing:0.235px">4-4440</text>
<text class="tx" x="275.37" y="1011.58" style="letter-spacing:1.454px">INSULATOR</text>
<text class="tx" x="78.50" y="1032.52" text-anchor="middle">5</text>
<text class="tx" x="146.94" y="1032.52" style="letter-spacing:0.268px">4-4441</text>
<text class="tx" x="275.53" y="1032.52" style="letter-spacing:1.365px">GASKET, Insulator</text>
<text class="tx" x="78.50" y="1053.46" text-anchor="middle">6</text>
<text class="tx" x="146.94" y="1053.46" style="letter-spacing:0.268px">4-4442</text>
<text class="tx" x="275.11" y="1053.46" style="letter-spacing:0.916px">SCREW</text>
<text class="tx" x="78.50" y="1074.40" text-anchor="middle">7</text>
<text class="tx" x="146.94" y="1074.40" style="letter-spacing:0.252px">4-4443</text>
<text class="tx" x="275.53" y="1074.40" style="letter-spacing:1.021px">NUT</text>
<text class="tx" x="78.50" y="1095.34" text-anchor="middle">8</text>
<text class="tx" x="146.94" y="1095.34" style="letter-spacing:0.202px">4-4444</text>
<text class="tx" x="275.53" y="1095.34" style="letter-spacing:1.165px">BRACKET</text>
<text class="tx" x="78.50" y="1116.28" text-anchor="middle">9</text>
<text class="tx" x="146.94" y="1116.28" style="letter-spacing:0.235px">4-4445</text>
<text class="tx" x="275.53" y="1116.28" style="letter-spacing:1.132px">PLUG</text>
<text class="tx" x="78.50" y="1137.22" text-anchor="middle">10</text>
<text class="tx" x="146.94" y="1137.22" style="letter-spacing:0.252px">4-4446</text>
<text class="tx" x="275.11" y="1137.22" style="letter-spacing:0.800px">SCREW (2)</text>
<text class="tx" x="78.50" y="1158.16" text-anchor="middle">11</text>
<text class="tx" x="146.94" y="1158.16" style="letter-spacing:0.268px">4-4447</text>
<text class="tx" x="275.53" y="1158.16" style="letter-spacing:1.280px">HOLDER, Wire</text>
<text class="tx" x="78.50" y="1179.10" text-anchor="middle">12</text>
<text class="tx" x="146.94" y="1179.10" style="letter-spacing:0.235px">4-4448</text>
<text class="tx" x="276.27" y="1179.10" style="letter-spacing:1.467px">VALVE, Throttle</text>
<text class="tx" x="78.50" y="1200.04" text-anchor="middle">13</text>
<text class="tx" x="146.94" y="1200.04" style="letter-spacing:0.252px">4-4449</text>
<text class="tx" x="275.53" y="1200.04" style="letter-spacing:1.273px">CLIP</text>
<text class="tx" x="78.50" y="1220.98" text-anchor="middle">14</text>
<text class="tx" x="146.94" y="1220.98" style="letter-spacing:0.235px">4-4450</text>
<text class="tx" x="275.53" y="1220.98" style="letter-spacing:1.710px">PACKING</text>
<text class="tx" x="78.50" y="1241.92" text-anchor="middle">15</text>
<text class="tx" x="146.94" y="1241.92" style="letter-spacing:0.268px">4-4451</text>
<text class="tx" x="275.61" y="1241.92" style="letter-spacing:1.026px">O-RING</text>
<text class="tx" x="78.50" y="1262.86" text-anchor="middle">16</text>
<text class="tx" x="146.94" y="1262.86" style="letter-spacing:0.268px">4-4452</text>
<text class="tx" x="276.10" y="1262.86" style="letter-spacing:1.461px">JET, Main</text>
<text class="tx" x="78.50" y="1283.80" text-anchor="middle">17</text>
<text class="tx" x="146.94" y="1283.80" style="letter-spacing:0.252px">4-4453</text>
<text class="tx" x="275.53" y="1283.80" style="letter-spacing:1.209px">GASKET</text>
<text class="tx" x="569.50" y="931.10" text-anchor="middle">18</text>
<text class="tx" x="638.24" y="931.10" style="letter-spacing:0.162px">4-4454</text>
<text class="tx" x="767.03" y="931.10" style="letter-spacing:1.504px">DIAPHRAGM</text>
<text class="tx" x="569.50" y="951.88" text-anchor="middle">19</text>
<text class="tx" x="638.24" y="951.88" style="letter-spacing:0.195px">4-4455</text>
<text class="tx" x="767.03" y="951.88" style="letter-spacing:1.449px">PLATE</text>
<text class="tx" x="569.50" y="972.66" text-anchor="middle">20</text>
<text class="tx" x="638.24" y="972.66" style="letter-spacing:0.211px">4-4456</text>
<text class="tx" x="767.52" y="972.66" style="letter-spacing:1.109px">GASKET</text>
<text class="tx" x="569.50" y="993.44" text-anchor="middle">21</text>
<text class="tx" x="638.24" y="993.44" style="letter-spacing:0.228px">4-4457</text>
<text class="tx" x="767.61" y="993.44" style="letter-spacing:1.028px">SCREEN</text>
<text class="tx" x="569.50" y="1014.22" text-anchor="middle">22</text>
<text class="tx" x="638.24" y="1014.22" style="letter-spacing:0.195px">4-4458</text>
<text class="tx" x="767.03" y="1014.22" style="letter-spacing:1.603px">BODY, Pump</text>
<text class="tx" x="767.36" y="1034.60" style="letter-spacing:1.305px">(Includes item 21)</text>
<text class="tx" x="569.50" y="1054.90" text-anchor="middle">23</text>
<text class="tx" x="638.24" y="1054.90" style="letter-spacing:0.211px">4-4459</text>
<text class="tx" x="767.52" y="1054.90" style="letter-spacing:1.009px">GASKET</text>
<text class="tx" x="569.50" y="1075.82" text-anchor="middle">24</text>
<text class="tx" x="638.24" y="1075.82" style="letter-spacing:0.195px">4-4460</text>
<text class="tx" x="767.03" y="1075.82" style="letter-spacing:1.504px">DIAPHRAGM</text>
<text class="tx" x="569.50" y="1096.74" text-anchor="middle">25</text>
<text class="tx" x="638.24" y="1096.74" style="letter-spacing:0.228px">4-4461</text>
<text class="tx" x="767.03" y="1096.74" style="letter-spacing:1.085px">BODY</text>
<text class="tx" x="569.50" y="1117.66" text-anchor="middle">26</text>
<text class="tx" x="638.24" y="1117.66" style="letter-spacing:0.228px">4-4462</text>
<text class="tx" x="767.77" y="1117.66" style="letter-spacing:1.449px">ASSEMBLY, Primer Pump</text>
<text class="tx" x="569.50" y="1138.58" text-anchor="middle">27</text>
<text class="tx" x="638.24" y="1138.58" style="letter-spacing:0.211px">4-4463</text>
<text class="tx" x="767.02" y="1138.58" style="letter-spacing:1.052px">COVER</text>
<text class="tx" x="569.50" y="1159.50" text-anchor="middle">28</text>
<text class="tx" x="638.24" y="1159.50" style="letter-spacing:0.162px">4-4464</text>
<text class="tx" x="766.61" y="1159.50" style="letter-spacing:0.916px">SCREW</text>
<text class="tx" x="569.50" y="1180.42" text-anchor="middle">29</text>
<text class="tx" x="638.24" y="1180.42" style="letter-spacing:0.211px">4-4473</text>
<text class="tx" x="728.03" y="1180.42" style="letter-spacing:1.149px">MUFFLER (Includes 30 &amp; 31)</text>
<text class="tx" x="569.50" y="1201.34" text-anchor="middle">30</text>
<text class="tx" x="638.24" y="1201.34" style="letter-spacing:0.162px">4-4474</text>
<text class="tx" x="767.11" y="1201.34" style="letter-spacing:1.201px">SPARK ARRESTER</text>
<text class="tx" x="569.50" y="1222.26" text-anchor="middle">31</text>
<text class="tx" x="638.24" y="1222.26" style="letter-spacing:0.195px">4-4475</text>
<text class="tx" x="746.61" y="1222.26" style="letter-spacing:1.041px">SCREW</text>
<text class="tx" x="569.50" y="1243.18" text-anchor="middle">32</text>
<text class="tx" x="638.24" y="1243.18" style="letter-spacing:0.228px">4-4472</text>
<text class="tx" x="728.02" y="1243.18" style="letter-spacing:1.432px">GASKET, Muffler</text>
<text class="tx" x="569.50" y="1264.10" text-anchor="middle">33</text>
<text class="tx" x="638.24" y="1264.10" style="letter-spacing:0.211px">4-4476</text>
<text class="tx" x="728.03" y="1264.10" style="letter-spacing:1.157px">NUT, Flange (2)</text>
<text class="tx" x="569.50" y="1285.02" text-anchor="middle">34</text>
<text class="tx" x="638.24" y="1285.02" style="letter-spacing:0.211px">4-4496</text>
<text class="tx" x="728.03" y="1285.02" style="letter-spacing:1.258px">EXHAUST, Elbow</text>
<text class="n" transform="translate(512.7,1342.7) scale(0.6,1)" font-size="23.3">10</text>
</g>
</svg>
</body></html>
